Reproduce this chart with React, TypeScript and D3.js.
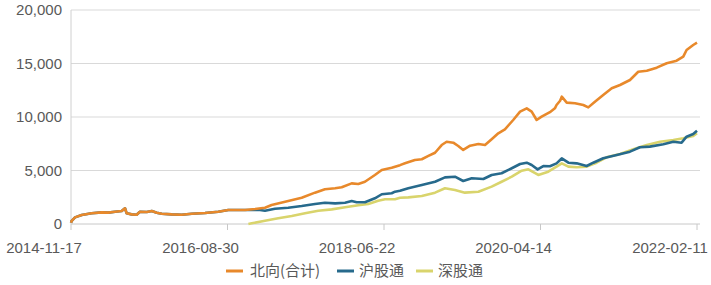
import React from "react";
import * as d3 from "d3";

// ---- data ----
const tickLabels = ["2014-11-17", "2016-08-30", "2018-06-22", "2020-04-14", "2022-02-11"];
const yTicks = [0, 5000, 10000, 15000, 20000];

const northbound: [string, number][] = [
  ["2014-11-17", 120], ["2014-11-20", 300], ["2014-12-04", 620], ["2015-01-01", 840],
  ["2015-02-12", 1000], ["2015-03-27", 1090], ["2015-04-23", 1060], ["2015-05-22", 1150],
  ["2015-06-19", 1215], ["2015-07-03", 1470], ["2015-07-10", 1000], ["2015-07-31", 900],
  ["2015-08-21", 870], ["2015-09-04", 1150], ["2015-10-03", 1120], ["2015-10-24", 1215],
  ["2015-11-14", 1060], ["2015-12-05", 960], ["2016-01-16", 900], ["2016-02-27", 870],
  ["2016-04-10", 960], ["2016-06-05", 1030], ["2016-07-31", 1150], ["2016-09-11", 1310],
  ["2016-10-23", 1310], ["2016-11-21", 1310], ["2017-01-02", 1400], ["2017-02-13", 1520],
  ["2017-03-13", 1780], ["2017-05-09", 2080], ["2017-07-18", 2460], ["2017-09-12", 2930],
  ["2017-10-24", 3240], ["2017-12-06", 3340], ["2018-01-03", 3430], ["2018-02-14", 3800],
  ["2018-03-14", 3740], ["2018-04-11", 3950], ["2018-05-23", 4580], ["2018-06-21", 5050],
  ["2018-08-02", 5260], ["2018-09-06", 5500], ["2018-09-27", 5670], ["2018-11-08", 5980],
  ["2018-12-07", 6050], ["2019-01-04", 6360], ["2019-02-01", 6660], ["2019-03-01", 7380],
  ["2019-03-22", 7690], ["2019-04-19", 7600], ["2019-05-10", 7290], ["2019-05-31", 6920],
  ["2019-06-29", 7320], ["2019-08-03", 7480], ["2019-08-31", 7380], ["2019-09-28", 7920],
  ["2019-10-26", 8480], ["2019-11-23", 8850], ["2019-12-28", 9720], ["2020-01-26", 10500],
  ["2020-02-23", 10810], ["2020-03-15", 10500], ["2020-04-05", 9720], ["2020-04-26", 10030],
  ["2020-05-31", 10450], ["2020-06-21", 10810], ["2020-06-28", 11120], ["2020-07-13", 11520],
  ["2020-07-20", 11900], ["2020-08-10", 11340], ["2020-09-14", 11280], ["2020-10-19", 11120],
  ["2020-11-09", 10900], ["2020-12-07", 11430], ["2021-01-11", 12060], ["2021-02-16", 12680],
  ["2021-03-23", 12990], ["2021-05-04", 13460], ["2021-06-08", 14230], ["2021-07-14", 14330],
  ["2021-08-25", 14610], ["2021-10-06", 15020], ["2021-11-17", 15260], ["2021-12-15", 15640],
  ["2021-12-29", 16260], ["2022-01-26", 16730], ["2022-02-11", 16950],
];

const shanghai: [string, number][] = [
  ["2014-11-17", 120], ["2014-11-20", 300], ["2014-12-04", 620], ["2015-01-01", 840],
  ["2015-02-12", 1000], ["2015-03-27", 1090], ["2015-04-23", 1060], ["2015-05-22", 1150],
  ["2015-06-19", 1215], ["2015-07-03", 1470], ["2015-07-10", 1000], ["2015-07-31", 900],
  ["2015-08-21", 870], ["2015-09-04", 1150], ["2015-10-03", 1120], ["2015-10-24", 1215],
  ["2015-11-14", 1060], ["2015-12-05", 960], ["2016-01-16", 900], ["2016-02-27", 870],
  ["2016-04-10", 960], ["2016-06-05", 1030], ["2016-07-31", 1150], ["2016-09-11", 1310],
  ["2016-10-23", 1310], ["2016-11-21", 1310], ["2017-01-23", 1310], ["2017-02-13", 1240],
  ["2017-03-27", 1430], ["2017-05-22", 1520], ["2017-07-18", 1680], ["2017-09-12", 1870],
  ["2017-10-24", 1990], ["2017-12-06", 1930], ["2018-01-17", 1990], ["2018-02-14", 2150],
  ["2018-03-07", 2030], ["2018-04-11", 2030], ["2018-05-23", 2400], ["2018-06-21", 2780],
  ["2018-08-02", 2870], ["2018-08-16", 3020], ["2018-09-06", 3100], ["2018-10-11", 3340],
  ["2018-12-07", 3640], ["2019-02-01", 3950], ["2019-03-15", 4360], ["2019-04-26", 4420],
  ["2019-05-31", 4020], ["2019-07-06", 4270], ["2019-08-24", 4210], ["2019-09-28", 4580],
  ["2019-11-09", 4740], ["2019-12-22", 5210], ["2020-01-26", 5610], ["2020-02-23", 5730],
  ["2020-03-15", 5510], ["2020-04-09", 5110], ["2020-05-03", 5420], ["2020-05-31", 5400],
  ["2020-06-28", 5670], ["2020-07-13", 5980], ["2020-07-20", 6140], ["2020-08-17", 5730],
  ["2020-09-21", 5670], ["2020-11-02", 5420], ["2020-11-30", 5730], ["2021-01-11", 6140],
  ["2021-03-09", 6450], ["2021-05-04", 6760], ["2021-06-15", 7170], ["2021-07-27", 7230],
  ["2021-09-22", 7450], ["2021-11-03", 7690], ["2021-12-08", 7600], ["2021-12-29", 8160],
  ["2022-01-26", 8410], ["2022-02-11", 8720],
];

const shenzhen: [string, number][] = [
  ["2016-12-05", 0], ["2016-12-19", 65], ["2017-02-13", 310], ["2017-04-10", 530],
  ["2017-06-06", 750], ["2017-08-01", 1000], ["2017-09-26", 1240], ["2017-11-22", 1370],
  ["2018-01-17", 1560], ["2018-03-14", 1750], ["2018-04-25", 1870], ["2018-06-06", 2180],
  ["2018-07-05", 2310], ["2018-08-16", 2320], ["2018-09-06", 2460], ["2018-10-11", 2490],
  ["2018-12-07", 2620], ["2019-02-01", 2930], ["2019-03-15", 3340], ["2019-04-26", 3180],
  ["2019-06-07", 2930], ["2019-08-03", 3020], ["2019-09-28", 3490], ["2019-11-09", 3950],
  ["2019-12-22", 4420], ["2020-02-02", 4980], ["2020-03-01", 5110], ["2020-04-12", 4580],
  ["2020-05-24", 4890], ["2020-06-28", 5360], ["2020-07-20", 5670], ["2020-08-17", 5360],
  ["2020-09-21", 5300], ["2020-11-02", 5360], ["2020-12-14", 5730], ["2021-01-25", 6230],
  ["2021-03-23", 6540], ["2021-05-18", 6980], ["2021-07-14", 7380], ["2021-09-08", 7690],
  ["2021-11-03", 7850], ["2021-12-15", 8010], ["2022-01-26", 8220], ["2022-02-11", 8480],
];

const seriesNames = ["北向(合计)", "沪股通", "深股通"];
const seriesColors = ["#E8892B", "#276A8C", "#D9D46C"];

// ---- layout ----
const W = 711, H = 285;
const L = 71, R = 697, T = 10, B = 224;
const parse = d3.timeParse("%Y-%m-%d");

export default function App() {
  const x = d3.scaleTime().domain([parse(tickLabels[0])!, parse(tickLabels[tickLabels.length - 1])!]).range([L, R]);
  const xt = d3.scalePoint<string>().domain(tickLabels).range([L, R]);
  const y = d3.scaleLinear().domain([0, 20000]).range([B, T]);
  const line = d3.line<[string, number]>().x(d => x(parse(d[0])!)).y(d => y(d[1]));
  const all = [northbound, shanghai, shenzhen];
  const fmt = d3.format(",");
  const font = "'Liberation Sans', Arial, sans-serif";
  const txt = "#595959";

  const legendLayout = [
    { lx: 226, tx: 250 },
    { lx: 337, tx: 359 },
    { lx: 416, tx: 438 },
  ];

  return (
    <svg width={W} height={H} style={{ position: "absolute", left: 0, top: 0, background: "#fff" }}>
      {yTicks.map(t => (
        <g key={t}>
          <line x1={L} x2={R + 3} y1={y(t)} y2={y(t)} stroke={t === 0 ? "#c8c8c8" : "#d9d9d9"} strokeWidth={1} />
          <text x={62} y={y(t)} dy="0.36em" textAnchor="end" fontFamily={font} fontSize={15} fill={txt}>{fmt(t)}</text>
        </g>
      ))}
      <line x1={L} x2={L} y1={T} y2={B} stroke="#d0d0d0" strokeWidth={1} />
      {tickLabels.map(t => (
        <g key={t}>
          <line x1={xt(t)!} x2={xt(t)!} y1={B} y2={B + 6} stroke="#c8c8c8" strokeWidth={1} />
          <text x={xt(t)! - 27} y={253} textAnchor="middle" fontFamily={font} fontSize={15} fill={txt}>{t}</text>
        </g>
      ))}
      {[2, 1, 0].map(i => (
        <path key={i} d={line(all[i])!} fill="none" stroke={seriesColors[i]} strokeWidth={2.6} strokeLinejoin="round" />
      ))}
      {seriesNames.map((n, i) => (
        <g key={n}>
          <line x1={legendLayout[i].lx} x2={legendLayout[i].lx + 17} y1={271} y2={271} stroke={seriesColors[i]} strokeWidth={3} />
          <text x={legendLayout[i].tx} y={271} dy="0.35em" fontFamily="'Noto Sans CJK SC', sans-serif" fontSize={15} fill={txt}>{n}</text>
        </g>
      ))}
    </svg>
  );
}
